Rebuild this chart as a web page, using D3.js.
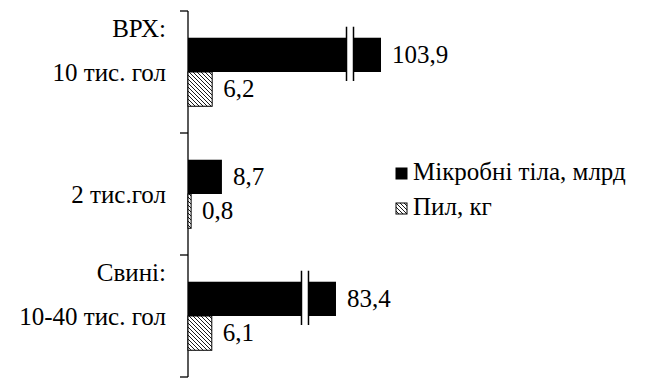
<!DOCTYPE html>
<html>
<head>
<meta charset="utf-8">
<script src="https://cdn.jsdelivr.net/npm/d3@7"></script>
</head>
<body style="margin:0">
<svg id="chart" width="646" height="380" style="font-family: 'Liberation Serif', Tinos, 'Times New Roman';"></svg>
<script>
// groups on the vertical axis (label lines) and the two series
var categories = ["vrh", "small", "pigs"];
var categoryLabels = [["ВРХ:", "10 тис. гол"], ["2 тис.гол"], ["Свині:", "10-40 тис. гол"]];
var seriesNames = ["Мікробні тіла, млрд", "Пил, кг"];
var microbes = [103.9, 8.7, 83.4];
var dust = [6.2, 0.8, 6.1];
var valueLabels = [["103,9", "6,2"], ["8,7", "0,8"], ["83,4", "6,1"]];

var FS = 25;

var svg = d3.select("#chart");
svg.append("rect").attr("width", 646).attr("height", 380).attr("fill", "#fff");

var axisX = 188;

function styleText(sel) {
    sel.attr("font-family", "Liberation Serif")
        .style("font-family", "'Liberation Serif', Tinos, 'Times New Roman'")
        .attr("font-size", FS)
        .attr("fill", "#000");
}

// hatch pattern for the dust series
var defs = svg.append("defs");
var pat = defs.append("pattern")
    .attr("id", "hatch")
    .attr("patternUnits", "userSpaceOnUse")
    .attr("width", 4).attr("height", 4);
pat.append("rect").attr("width", 4).attr("height", 4).attr("fill", "#fff");
pat.append("path")
    .attr("d", "M0,0 L4,4 M-1,3 L1,5 M3,-1 L5,1")
    .attr("stroke", "#000").attr("stroke-width", 0.9);

// x scale has a break: long bars are compressed after the axis break
let x = d3.scaleLinear()
    .domain([0, 10, 60, 110])
    .range([axisX, axisX + 39, axisX + 96.6, axisX + 206.4]);

let y0 = d3.scaleBand()
    .domain(categories)
    .range([11, 377])
    .padding(0);

let y1 = d3.scaleBand()
    .domain(seriesNames)
    .range([0, y0.bandwidth()])
    .paddingInner(0)
    .paddingOuter(0.78);

let rows = categories.map((c, i) => ({
    cat: c,
    labels: categoryLabels[i],
    values: [microbes[i], dust[i]],
    texts: valueLabels[i]
}));

// axis line + ticks on group boundaries
let g = svg.append("g");
g.append("line")
    .attr("x1", axisX).attr("x2", axisX)
    .attr("y1", y0.range()[0]).attr("y2", y0.range()[1])
    .attr("stroke", "#000").attr("stroke-width", 1.3);

let tickYs = categories.map(c => y0(c)).concat([y0.range()[1]]);
g.selectAll(".tick")
    .data(tickYs)
    .enter().append("line")
    .attr("class", "tick")
    .attr("x1", axisX - 8).attr("x2", axisX)
    .attr("y1", d => d).attr("y2", d => d)
    .attr("stroke", "#000").attr("stroke-width", 1.3);

// category labels
let groups = g.selectAll(".grp")
    .data(rows)
    .enter().append("g")
    .attr("class", "grp")
    .attr("transform", d => "translate(0," + y0(d.cat) + ")");

let mid = y0.bandwidth() / 2;
groups.append("text")
    .attr("text-anchor", "end")
    .call(styleText)
    .each(function(d) {
        let t = d3.select(this);
        if (d.labels.length == 2) {
            t.append("tspan").attr("x", axisX - 22).attr("y", mid - 35).text(d.labels[0]);
            t.append("tspan").attr("x", axisX - 22).attr("y", mid + 9).text(d.labels[1]);
        } else {
            t.append("tspan").attr("x", axisX - 22).attr("y", mid + 9).text(d.labels[0]);
        }
    });

// bars
groups.selectAll(".bar")
    .data(d => d.values.map((v, j) => ({ v: v, s: seriesNames[j], j: j })))
    .enter().append("rect")
    .attr("class", "bar")
    .attr("x", axisX)
    .attr("y", d => y1(d.s))
    .attr("width", d => x(d.v) - axisX)
    .attr("height", y1.bandwidth())
    .attr("fill", d => d.j == 0 ? "#000" : "url(#hatch)")
    .attr("stroke", d => d.j == 0 ? "none" : "#000")
    .attr("stroke-width", 1);

// axis break marks on the long bars
groups.selectAll(".brk")
    .data(d => d.values[0] > 60 ? [d.values[0]] : [])
    .enter().append("g")
    .attr("class", "brk")
    .each(function(v) {
        let b = d3.select(this);
        let cx = x(v) - 31;
        let top = y1(seriesNames[0]) - 11, bot = y1(seriesNames[0]) + y1.bandwidth() + 9;
        b.append("rect").attr("x", cx - 3).attr("y", top).attr("width", 6).attr("height", bot - top).attr("fill", "#fff");
        b.append("line").attr("x1", cx - 3.5).attr("x2", cx - 3.5).attr("y1", top).attr("y2", bot).attr("stroke", "#000").attr("stroke-width", 1.5);
        b.append("line").attr("x1", cx + 3.5).attr("x2", cx + 3.5).attr("y1", top).attr("y2", bot).attr("stroke", "#000").attr("stroke-width", 1.5);
    });

// value labels
groups.selectAll(".val")
    .data(d => d.values.map((v, j) => ({ v: v, s: seriesNames[j], txt: d.texts[j] })))
    .enter().append("text")
    .attr("class", "val")
    .call(styleText)
    .attr("x", d => x(d.v) + 11)
    .attr("y", d => y1(d.s) + y1.bandwidth() / 2 + 8)
    .text(d => d.txt);

// legend
let legend = svg.append("g").attr("transform", "translate(396,168)");
let li = legend.selectAll(".li")
    .data(seriesNames)
    .enter().append("g")
    .attr("transform", (d, i) => "translate(0," + i * 35 + ")");
li.append("rect")
    .attr("width", 11).attr("height", 11)
    .attr("fill", (d, i) => i == 0 ? "#000" : "url(#hatch)")
    .attr("stroke", "#000").attr("stroke-width", 1);
li.append("text")
    .call(styleText)
    .attr("x", 17).attr("y", 12)
    .text(d => d);
</script>
</body>
</html>
